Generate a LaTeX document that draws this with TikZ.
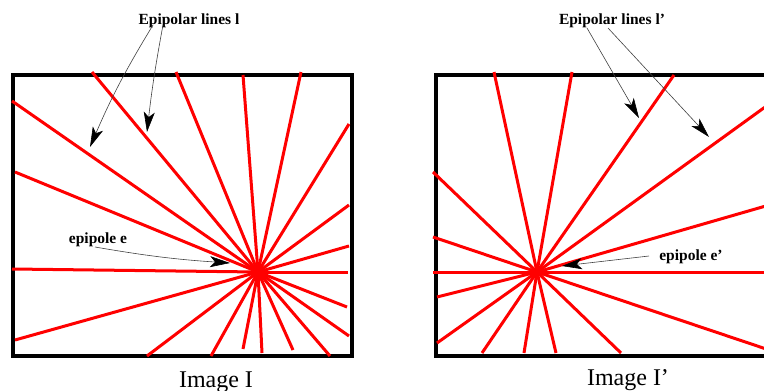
\documentclass[tikz,border=0pt]{standalone}
\usepackage{fontspec}
\setmainfont{Liberation Serif}
\usetikzlibrary{arrows.meta}
\begin{document}
\begin{tikzpicture}[x=1pt,y=-1pt,
  redline/.style={draw=red,line width=3pt},
  frame/.style={draw=black,line width=3.5pt},
  pointer/.style={draw=black!75,line width=0.6pt,-{Stealth[length=20pt,width=11pt,inset=5pt,color=black]}},
  lbl/.style={font=\bfseries\fontsize{15.5}{18}\selectfont,inner sep=0pt,anchor=base},
  caption/.style={font=\fontsize{24}{28}\selectfont,inner sep=0pt,anchor=base}]
\clip (0,0) rectangle (764,391);
\useasboundingbox (0,0) rectangle (764,391);
% frames
\draw[frame] (13,75) rectangle (352,356);
\draw[frame] (780,75) -- (436,75) -- (436,356) -- (780,356);
% left epipole and lines
\coordinate (e) at (258,272);
\foreach \x/\y [count=\i] in {92/72,176/72,243/75,301/72,349/124,12/101,15/172,
  349/205,349/246,348/272,12/269,347/307,349/336,15/340,
  147/356,211/356,243/349,262/353,293/350,330/356}
  {\coordinate (l\i) at (\x,\y); \draw[redline] (e) -- (l\i);}
% right epipole and lines
\coordinate (ep) at (537,272);
\foreach \x/\y [count=\i] in {494/72,572/72,674/75,790/89,433/172,
  790/199,790/272,790/357,433/237,433/272,437/297,437/343,
  482/353,524/353,556/353,621/353}
  {\coordinate (r\i) at (\x,\y); \draw[redline] (ep) -- (r\i);}
% labels left
\node[lbl] (tl) at (189,24) {Epipolar lines l};
\coordinate (tla) at (153,25); \coordinate (tlb) at (163,25);
\coordinate (tlaend) at (90,147); \coordinate (tlbend) at (147,132);
\draw[pointer] (tla) to[bend right=4] (tlaend);
\draw[pointer] (tlb) to[bend right=2] (tlbend);
\node[lbl] (el) at (98,243) {epipole e};
\coordinate (ela) at (95,247); \coordinate (elend) at (230,263);
\draw[pointer] (ela) to[bend right=3] (elend);
% labels right
\node[lbl] (tr) at (612,24) {Epipolar lines l’};
\coordinate (tra) at (587,28); \coordinate (trb) at (608,28);
\coordinate (traend) at (639,118); \coordinate (trbend) at (709,137);
\draw[pointer] (tra) -- (traend);
\draw[pointer] (trb) -- (trbend);
\node[lbl] (er) at (691,260) {epipole e’};
\coordinate (era) at (649,256); \coordinate (erend) at (562,266);
\draw[pointer] (era) -- (erend);
% captions
\node[caption] (cl) at (216,387) {Image I};
\node[caption] (cr) at (628,385) {Image I’};
\end{tikzpicture}
\end{document}
